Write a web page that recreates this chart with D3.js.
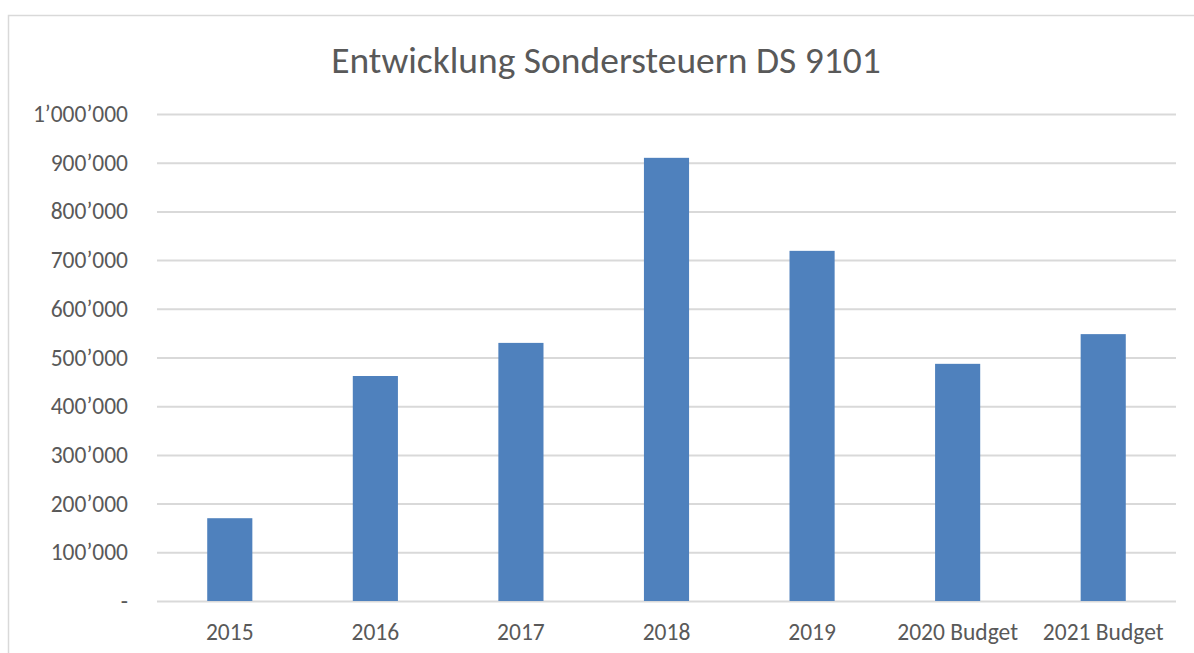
<!DOCTYPE html>
<html>
<head>
<meta charset="utf-8">
<script src="https://cdn.jsdelivr.net/npm/d3@7"></script>
<style>
  body { margin: 0; background: #fff; }
  svg text { font-family: Carlito, "Open Sans", sans-serif; fill: #595959; }
  .grid line { stroke: #d9d9d9; stroke-width: 2; }
  .grid path { display: none; }
  .axis path, .axis line { display: none; }
</style>
</head>
<body>
<svg id="chart"></svg>
<script>
// chart data
var categories = ["2015", "2016", "2017", "2018", "2019", "2020 Budget", "2021 Budget"];
var values = [170000, 462000, 530000, 910000, 719000, 487000, 548000];
var yTicks = [0, 100000, 200000, 300000, 400000, 500000, 600000, 700000, 800000, 900000, 1000000];
var title = "Entwicklung Sondersteuern DS 9101";

var W = 1194, H = 653;
var margin = {top: 114, right: 18, bottom: 52, left: 157};
var width = W - margin.left - margin.right,
    height = H - margin.top - margin.bottom;

var svg = d3.select("#chart").attr("width", W).attr("height", H);

// chart area border (only top and left visible in the crop)
svg.append("path")
    .attr("d", "M8.5," + H + " V15.5 H" + W)
    .attr("fill", "none")
    .attr("stroke", "#d9d9d9")
    .attr("stroke-width", 1.5);

svg.append("text")
    .attr("x", 606)
    .attr("y", 73)
    .attr("text-anchor", "middle")
    .style("font-size", "37.5px")
    .text(title);

var g = svg.append("g")
    .attr("transform", "translate(" + margin.left + "," + margin.top + ")");

var x = d3.scaleBand().domain(categories).range([0, width]).paddingInner(0.69).paddingOuter(0.345);
var y = d3.scaleLinear().domain([0, 1000000]).range([height, 0]);

function fmt(v) {
    if (v === 0) return "-";
    return d3.format(",")(v).replace(/,/g, "\u2019");
}

// gridlines
g.append("g")
    .attr("class", "grid")
    .call(d3.axisLeft(y).tickValues(yTicks).tickSize(-width).tickFormat(""));

// bars
g.selectAll("rect.bar")
    .data(values)
    .enter().append("rect")
    .attr("class", "bar")
    .attr("x", function(d, i) { return x(categories[i]); })
    .attr("width", x.bandwidth())
    .attr("y", function(d) { return y(d); })
    .attr("height", function(d) { return height - y(d); })
    .attr("fill", "#4f81bd");

// y axis labels
var ya = g.append("g")
    .attr("class", "axis")
    .call(d3.axisLeft(y).tickValues(yTicks).tickSize(0).tickPadding(29).tickFormat(fmt));
ya.selectAll("text").style("font-size", "23.5px").attr("fill", null);

// x axis labels
var xa = g.append("g")
    .attr("class", "axis")
    .attr("transform", "translate(0," + height + ")")
    .call(d3.axisBottom(x).tickSize(0).tickPadding(22));
xa.selectAll("text").style("font-size", "23.5px").attr("fill", null);
</script>
</body>
</html>
